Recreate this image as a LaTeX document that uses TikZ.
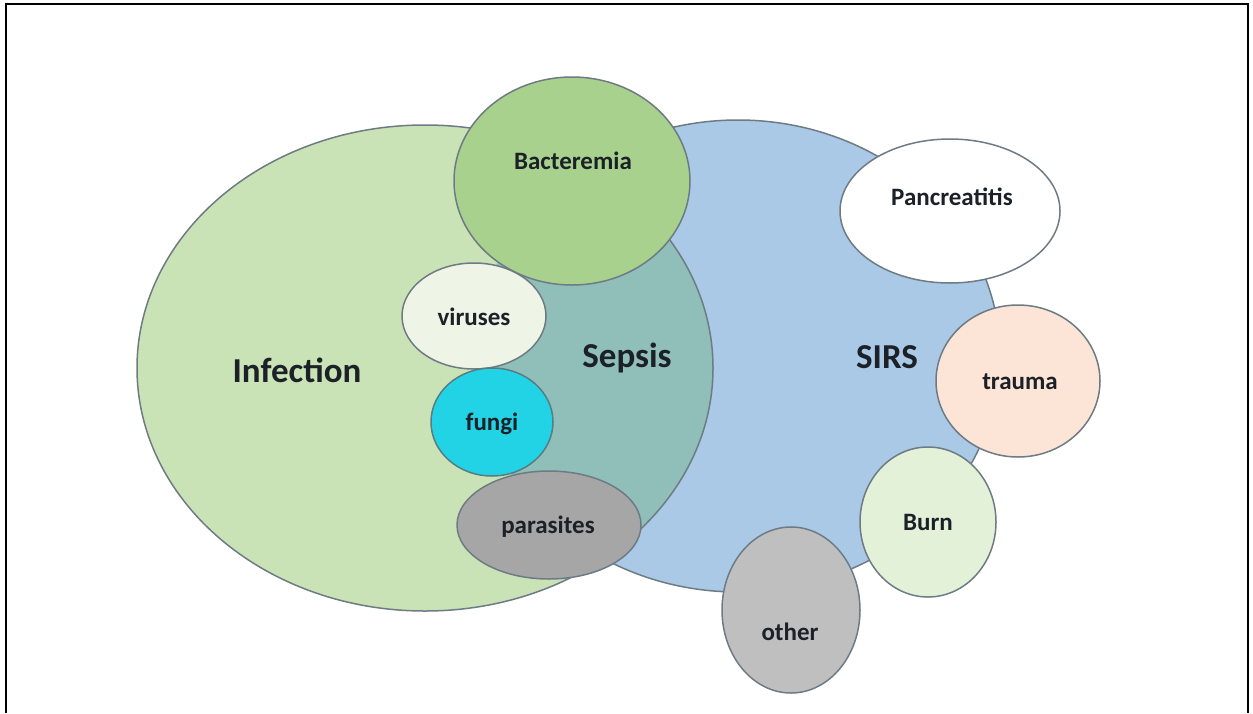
\documentclass[tikz,border=0pt]{standalone}
\usepackage{fontspec}
\setmainfont{Carlito}
\usetikzlibrary{shapes.geometric}
\definecolor{infgreen}{HTML}{C9E3B6}
\definecolor{sirsblue}{HTML}{A9C9E6}
\definecolor{septeal}{HTML}{8FBFB8}
\definecolor{bactgreen}{HTML}{A8D18D}
\definecolor{virfill}{HTML}{EEF4E6}
\definecolor{fungcyan}{HTML}{22D3E6}
\definecolor{paragray}{HTML}{A6A6A6}
\definecolor{traupeach}{HTML}{FCE4D6}
\definecolor{burngreen}{HTML}{E3F1D9}
\definecolor{othgray}{HTML}{BFBFBF}
\definecolor{edgegray}{HTML}{6F7B84}
\definecolor{ink}{HTML}{1C2128}
\tikzset{
  edge/.style={draw=edgegray, line width=0.75pt},
  bubble/.style={ellipse, edge, inner sep=0pt},
  bigtxt/.style={font=\bfseries\fontsize{17.5}{20}\selectfont, text=ink},
  smalltxt/.style={font=\bfseries\fontsize{12.5}{14}\selectfont, text=ink}
}
\begin{document}
\begin{tikzpicture}[x=0.5pt, y=-0.5pt]
  \useasboundingbox (0,0) rectangle (1253,713);
  % frame, open at the bottom
  \draw[line width=1pt] (6,713) -- (6,4) -- (1248,4) -- (1248,713);

  % SIRS, Infection and their overlap (Sepsis)
  \fill[sirsblue, edge] (738,356) ellipse [x radius=131pt, y radius=118pt];
  \fill[infgreen] (425,368) ellipse [x radius=144pt, y radius=121.5pt];
  \begin{scope}
    \clip (738,356) ellipse [x radius=131pt, y radius=118pt];
    \fill[septeal] (425,368) ellipse [x radius=144pt, y radius=121.5pt];
  \end{scope}
  \draw[edge] (425,368) ellipse [x radius=144pt, y radius=121.5pt];

  \node[bigtxt] (infection) at (297,370) {Infection};
  \node[bigtxt] (sepsis) at (627,358) {Sepsis};
  \node[bigtxt] (sirs) at (887,357) {SIRS};

  % causes
  \node[bubble, fill=bactgreen, minimum width=118pt, minimum height=104pt] (bact) at (572,181) {};
  \node[smalltxt] (bact-t) at (573,161) {Bacteremia};
  \node[bubble, fill=virfill, minimum width=72pt, minimum height=53pt] (vir) at (474,316) {};
  \node[smalltxt] (vir-t) at (474,317) {viruses};
  \node[bubble, fill=fungcyan, draw=edgegray!80!teal, minimum width=61pt, minimum height=54pt] (fung) at (492,422) {};
  \node[smalltxt] (fung-t) at (492,424) {fungi};
  \node[bubble, fill=paragray, minimum width=92pt, minimum height=54pt] (para) at (549,525) {};
  \node[smalltxt] (para-t) at (548,527) {parasites};

  % other SIRS triggers
  \node[bubble, fill=white, minimum width=110pt, minimum height=72pt] (panc) at (950,211) {};
  \node[smalltxt] (panc-t) at (952,197) {Pancreatitis};
  \node[bubble, fill=traupeach, minimum width=82pt, minimum height=76pt] (trau) at (1018,381) {};
  \node[smalltxt] (trau-t) at (1020,382) {trauma};
  \node[bubble, fill=burngreen, minimum width=68pt, minimum height=75pt] (burn) at (928,522) {};
  \node[smalltxt] (burn-t) at (928,522) {Burn};
  \node[bubble, fill=othgray, minimum width=69pt, minimum height=83pt] (oth) at (791,610) {};
  \node[smalltxt] (oth-t) at (790,632) {other};
\end{tikzpicture}
\end{document}
